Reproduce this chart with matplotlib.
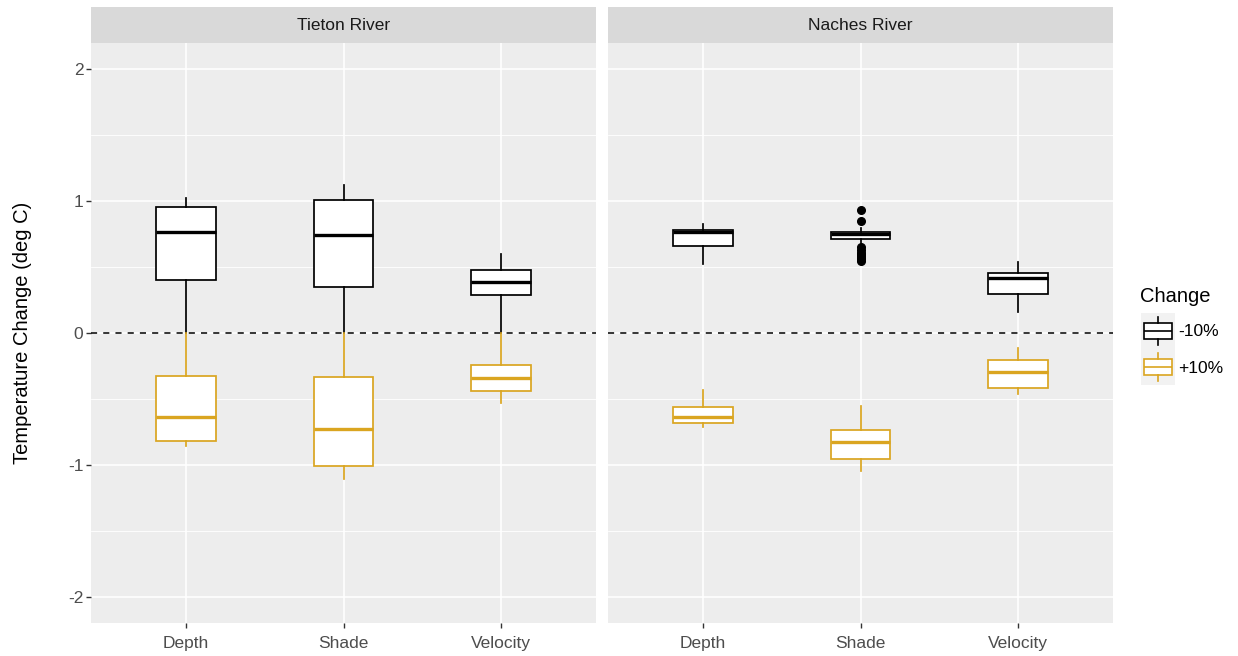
import matplotlib
matplotlib.use("Agg")
import matplotlib.pyplot as plt

plt.rcParams['font.family'] = ['Liberation Sans', 'DejaVu Sans']

# box stats per category: [lower whisker, q1, median, q3, upper whisker]
categories = ["Depth", "Shade", "Velocity"]
rivers = ["Tieton River", "Naches River"]
changes = ["-10%", "+10%"]

tieton_minus = [[0.00, 0.40, 0.77, 0.955, 1.025],
                [0.00, 0.35, 0.745, 1.01, 1.12],
                [0.00, 0.29, 0.385, 0.48, 0.60]]
tieton_plus = [[-0.86, -0.82, -0.636, -0.326, 0.00],
               [-1.11, -1.01, -0.732, -0.336, 0.00],
               [-0.53, -0.44, -0.34, -0.245, 0.00]]
naches_minus = [[0.525, 0.657, 0.765, 0.778, 0.83],
                [0.68, 0.715, 0.748, 0.765, 0.80],
                [0.16, 0.298, 0.417, 0.455, 0.538]]
naches_plus = [[-0.71, -0.68, -0.636, -0.56, -0.43],
               [-1.05, -0.955, -0.826, -0.737, -0.555],
               [-0.46, -0.42, -0.295, -0.207, -0.11]]
# outlying points (Naches, Shade, -10%)
naches_shade_outliers = [0.93, 0.85, 0.65, 0.63, 0.61, 0.60, 0.585, 0.57, 0.56, 0.55]

yticks = [-2, -1, 0, 1, 2]
colors = {"-10%": "black", "+10%": "#DAA520"}

W, H = 1238, 656
fig = plt.figure(figsize=(W / 100, H / 100), dpi=100)

def px_axes(x0, y0, x1, y1):
    return fig.add_axes([x0 / W, 1 - y1 / H, (x1 - x0) / W, (y1 - y0) / H])

def stats_of(rows, fliers=None):
    out = []
    for i, (lo, q1, med, q3, hi) in enumerate(rows):
        out.append(dict(whislo=lo, q1=q1, med=med, q3=q3, whishi=hi,
                        fliers=(fliers[i] if fliers else [])))
    return out

def draw_boxes(ax, stats, color):
    ax.bxp(stats, positions=range(1, len(stats) + 1), widths=0.38,
           patch_artist=True, showcaps=False, showfliers=True,
           boxprops=dict(facecolor="white", edgecolor=color, linewidth=1.25),
           whiskerprops=dict(color=color, linewidth=1.25),
           medianprops=dict(color=color, linewidth=2.4),
           flierprops=dict(marker="o", markerfacecolor=color, markeredgecolor=color,
                           markersize=5.5, linestyle="none"),
           zorder=3)

panels = [
    (91, 596, rivers[0], tieton_minus, tieton_plus, None),
    (608, 1113, rivers[1], naches_minus, naches_plus,
     [[], naches_shade_outliers, []]),
]

for k, (x0, x1, title, minus, plus, fl) in enumerate(panels):
    ax = px_axes(x0, 43, x1, 623)
    ax.set_facecolor("#EDEDED")
    ax.set_xlim(0.4, 3.6)
    ax.set_ylim(-2.2, 2.2)
    for y in [-1.5, -0.5, 0.5, 1.5]:
        ax.axhline(y, color="white", linewidth=0.6, zorder=1)
    for y in yticks:
        ax.axhline(y, color="white", linewidth=1.2, zorder=1)
    for x in range(1, 4):
        ax.axvline(x, color="white", linewidth=1.2, zorder=1)
    ax.axhline(0, color="black", linestyle=(0, (4, 4)), linewidth=1.1, zorder=2)

    draw_boxes(ax, stats_of(minus, fl), colors["-10%"])
    draw_boxes(ax, stats_of(plus), colors["+10%"])

    for s in ax.spines.values():
        s.set_visible(False)
    ax.set_xticks(range(1, 4))
    ax.set_xticklabels(categories)
    ax.set_yticks(yticks)
    if k == 0:
        ax.set_yticklabels([str(v) for v in yticks])
        ax.tick_params(axis="y", length=3.5, width=1, color="#333333",
                       labelsize=12.5, labelcolor="#4D4D4D", pad=2)
    else:
        ax.tick_params(axis="y", length=0, labelleft=False)
    ax.tick_params(axis="x", length=3.5, width=1, color="#333333",
                   labelsize=12.5, labelcolor="#4D4D4D", pad=6)

    strip = px_axes(x0, 7, x1, 43)
    strip.set_facecolor("#D9D9D9")
    strip.set_xticks([])
    strip.set_yticks([])
    for s in strip.spines.values():
        s.set_visible(False)
    strip.text(0.5, 0.5, title, ha="center", va="center", fontsize=12.5,
               color="#1A1A1A", transform=strip.transAxes)

fig.text(23 / W, 1 - 333 / H, "Temperature Change (deg C)", rotation=90,
         ha="center", va="center", fontsize=14.5, color="black")

# legend
fig.text(1140 / W, 1 - 297 / H, "Change", ha="left", va="center",
         fontsize=14.5, color="black")
for i, ch in enumerate(changes):
    top = 313 + i * 36
    key = px_axes(1141, top, 1175, top + 36)
    key.set_facecolor("#F2F2F2")
    key.set_xlim(0, 1)
    key.set_ylim(0, 1)
    key.bxp([dict(whislo=0.1, q1=0.28, med=0.5, q3=0.72, whishi=0.9, fliers=[])],
            positions=[0.5], widths=0.8, patch_artist=True, showcaps=False,
            boxprops=dict(facecolor="white", edgecolor=colors[ch], linewidth=1.2),
            whiskerprops=dict(color=colors[ch], linewidth=1.2),
            medianprops=dict(color=colors[ch], linewidth=1.2))
    key.set_xticks([])
    key.set_yticks([])
    for s in key.spines.values():
        s.set_visible(False)
    fig.text(1178 / W, 1 - (top + 19) / H, ch, ha="left", va="center",
             fontsize=12.5, color="black")

fig.savefig("out.png", dpi=100)
